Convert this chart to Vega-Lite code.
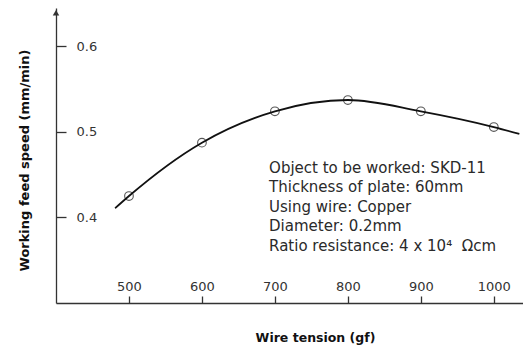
{
  "$schema": "https://vega.github.io/schema/vega-lite/v6.json",
  "width": 467,
  "height": 295,
  "autosize": {"type": "none"},
  "padding": {"left": 56, "top": 8, "right": 0, "bottom": 43},
  "background": "white",
  "config": {
    "view": {"stroke": null},
    "font": "DejaVu Sans",
    "axis": {"grid": false, "domainColor": "#333", "tickColor": "#333", "labelColor": "#333", "labelFontSize": 13, "titleColor": "#111", "titleFont": "DejaVu Sans", "labelFont": "DejaVu Sans", "domainWidth": 1.3, "tickWidth": 1.3}
  },
  "datasets": {
    "points": [
      {"tension": 500, "speed": 0.4251},
      {"tension": 600, "speed": 0.4875},
      {"tension": 700, "speed": 0.5242},
      {"tension": 800, "speed": 0.5374},
      {"tension": 900, "speed": 0.5242},
      {"tension": 1000, "speed": 0.5058}
    ],
    "curve": [
      {"tension": 481, "speed": 0.4108},
      {"tension": 500, "speed": 0.4251},
      {"tension": 600, "speed": 0.4875},
      {"tension": 700, "speed": 0.5242},
      {"tension": 800, "speed": 0.5374},
      {"tension": 900, "speed": 0.5242},
      {"tension": 1000, "speed": 0.5058},
      {"tension": 1035, "speed": 0.4977}
    ],
    "notes": [
      {"lines": ["Object to be worked: SKD-11", "Thickness of plate: 60mm", "Using wire: Copper", "Diameter: 0.2mm", "Ratio resistance: 4 x 10⁴\u00a0\u00a0Ωcm"]}
    ],
    "arrow": [{"tension": 400, "speed": 0.6395}]
  },
  "layer": [
    {
      "data": {"name": "curve"},
      "mark": {"type": "line", "interpolate": "monotone", "color": "#111", "strokeWidth": 1.8},
      "encoding": {
        "x": {"field": "tension", "type": "quantitative", "scale": {"domain": [400, 1040], "nice": false},
          "axis": {"values": [500, 600, 700, 800, 900, 1000], "format": "d", "tickSize": -7, "labelPadding": -9.5, "labelBaseline": "middle", "labelAlign": "center",
            "title": "Wire tension (gf)", "titleFontSize": 12.5, "titleFontWeight": "bold", "titleX": 259, "titleY": 34, "titleBaseline": "middle", "titleAnchor": null}},
        "y": {"field": "speed", "type": "quantitative", "scale": {"domain": [0.3, 0.645], "nice": false, "zero": false},
          "axis": {"values": [0.4, 0.5, 0.6], "format": ".1f", "tickSize": -10, "labelPadding": -10, "labelAlign": "left", "labelBaseline": "middle",
            "title": "Working feed speed (mm/min)", "titleFontSize": 13, "titleFontWeight": "bold", "titleX": -32, "titleY": 152, "titleBaseline": "middle", "titleAngle": -90}}
      }
    },
    {
      "data": {"name": "points"},
      "mark": {"type": "point", "shape": "circle", "filled": false, "color": "#111", "size": 75, "strokeWidth": 1.1},
      "encoding": {
        "x": {"field": "tension", "type": "quantitative"},
        "y": {"field": "speed", "type": "quantitative"}
      }
    },
    {
      "data": {"name": "notes"},
      "mark": {"type": "text", "align": "left", "baseline": "middle", "fontSize": 15, "lineHeight": 19.5, "color": "#2a2a2a", "font": "DejaVu Sans"},
      "encoding": {
        "x": {"datum": 692},
        "y": {"datum": 0.458},
        "text": {"field": "lines"}
      }
    },
    {
      "data": {"name": "arrow"},
      "mark": {"type": "point", "shape": "triangle-up", "filled": true, "color": "#333", "size": 42, "clip": false, "opacity": 1},
      "encoding": {
        "x": {"field": "tension", "type": "quantitative"},
        "y": {"field": "speed", "type": "quantitative"}
      }
    }
  ]
}
